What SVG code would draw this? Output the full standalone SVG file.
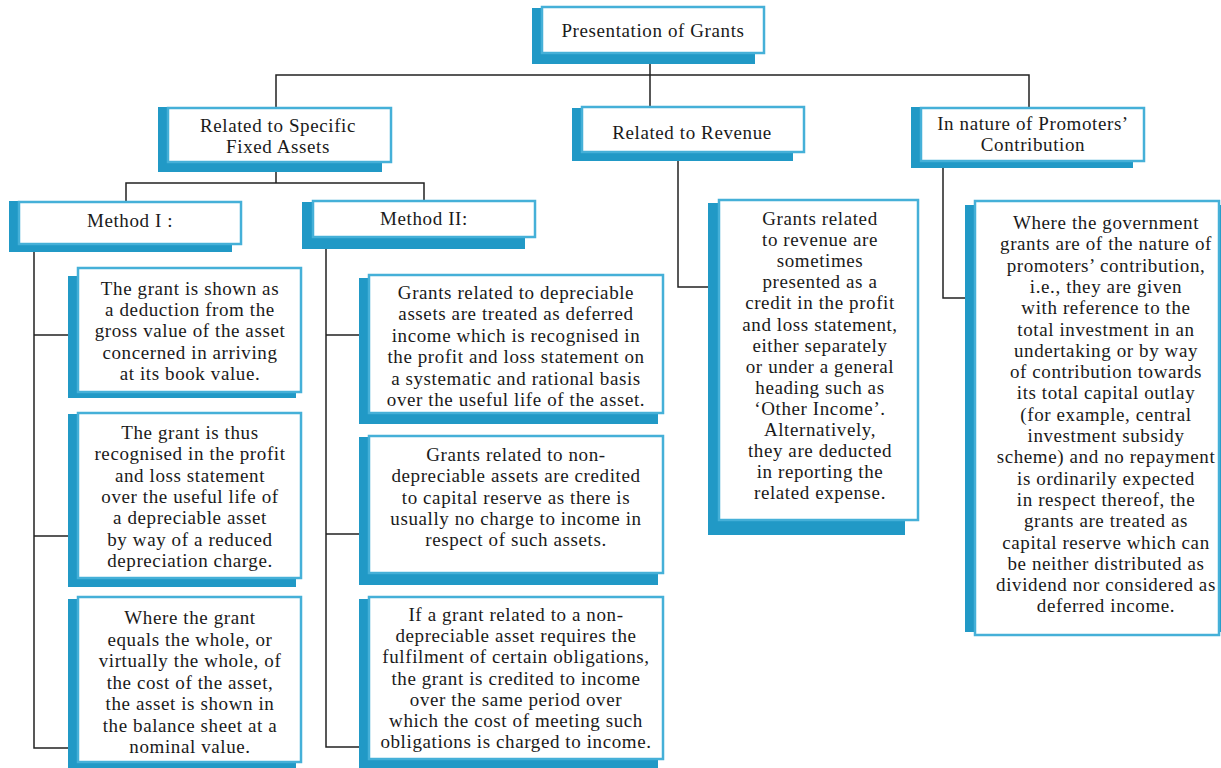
<svg xmlns="http://www.w3.org/2000/svg" width="1221" height="768" viewBox="0 0 1221 768">
<style>
.sh{fill:#2199c6}
.bx{fill:#fff;stroke:#45b0d8;stroke-width:2.5}
.t{font-family:"Liberation Serif","DejaVu Serif",serif;font-size:19px;letter-spacing:0.6px;fill:#1a1a1a;text-anchor:middle}
.c{fill:none;stroke:#222;stroke-width:1.5}
</style>
<rect width="1221" height="768" fill="#fff"/>
<g id="connectors">
<path class="c" d="M650 64V75M276 108V75H1029V107M650 75V107"/>
<path class="c" d="M276 172V183M126 201V183H424V201"/>
<path class="c" d="M34 252V748H68M34 335H68M34 536H68"/>
<path class="c" d="M326 237V747H359M326 335H359M326 534H359"/>
<path class="c" d="M678 161V287H708"/>
<path class="c" d="M943 168V298H965"/>
</g>
<g id="n-top">
<rect class="sh" x="532" y="8" width="223" height="56"/>
<rect class="bx" x="542" y="7" width="222" height="46"/>
<text class="t" x="653" y="37">Presentation of Grants</text>
</g>
<g id="n-specific">
<rect class="sh" x="158" y="107" width="224" height="65"/>
<rect class="bx" x="168" y="108" width="223" height="54"/>
<text class="t" x="278" y="132"><tspan x="278">Related to Specific</tspan><tspan x="278" dy="21.2">Fixed Assets</tspan></text>
</g>
<g id="n-revenue">
<rect class="sh" x="572" y="108" width="221" height="53"/>
<rect class="bx" x="582" y="107" width="222" height="45"/>
<text class="t" x="692" y="139">Related to Revenue</text>
</g>
<g id="n-promoters">
<rect class="sh" x="911" y="107" width="222" height="61"/>
<rect class="bx" x="921" y="108" width="223" height="53"/>
<text class="t" x="1033" y="130"><tspan x="1033">In nature of Promoters’</tspan><tspan x="1033" dy="21.2">Contribution</tspan></text>
</g>
<g id="n-method1">
<rect class="sh" x="9" y="201" width="223" height="51"/>
<rect class="bx" x="19" y="202" width="222" height="42"/>
<text class="t" x="130" y="227">Method I :</text>
</g>
<g id="n-method2">
<rect class="sh" x="302" y="202" width="223" height="47"/>
<rect class="bx" x="313" y="201" width="222" height="36"/>
<text class="t" x="424" y="225">Method II:</text>
</g>
<g id="n-m1a">
<rect class="sh" x="68" y="276" width="228" height="122"/>
<rect class="bx" x="78" y="268" width="223" height="124"/>
<text class="t" x="190" y="295"><tspan x="190">The grant is shown as</tspan><tspan x="190" dy="21.2">a deduction from the</tspan><tspan x="190" dy="21.2">gross value of the asset</tspan><tspan x="190" dy="21.2">concerned in arriving</tspan><tspan x="190" dy="21.2">at its book value.</tspan></text>
</g>
<g id="n-m1b">
<rect class="sh" x="68" y="414" width="228" height="173"/>
<rect class="bx" x="78" y="413" width="223" height="165"/>
<text class="t" x="190" y="439"><tspan x="190">The grant is thus</tspan><tspan x="190" dy="21.3">recognised in the profit</tspan><tspan x="190" dy="21.3">and loss statement</tspan><tspan x="190" dy="21.3">over the useful life of</tspan><tspan x="190" dy="21.3">a depreciable asset</tspan><tspan x="190" dy="21.3">by way of a reduced</tspan><tspan x="190" dy="21.3">depreciation charge.</tspan></text>
</g>
<g id="n-m1c">
<rect class="sh" x="68" y="599" width="228" height="175"/>
<rect class="bx" x="78" y="597" width="223" height="165"/>
<text class="t" x="190" y="624"><tspan x="190">Where the grant</tspan><tspan x="190" dy="21.5">equals the whole, or</tspan><tspan x="190" dy="21.5">virtually the whole, of</tspan><tspan x="190" dy="21.5">the cost of the asset,</tspan><tspan x="190" dy="21.5">the asset is shown in</tspan><tspan x="190" dy="21.5">the balance sheet at a</tspan><tspan x="190" dy="21.5">nominal value.</tspan></text>
</g>
<g id="n-m2a">
<rect class="sh" x="359" y="278" width="299" height="146"/>
<rect class="bx" x="369" y="275" width="294" height="138"/>
<text class="t" x="516" y="299"><tspan x="516">Grants related to depreciable</tspan><tspan x="516" dy="21.4">assets are treated as deferred</tspan><tspan x="516" dy="21.4">income which is recognised in</tspan><tspan x="516" dy="21.4">the profit and loss statement on</tspan><tspan x="516" dy="21.4">a systematic and rational basis</tspan><tspan x="516" dy="21.4">over the useful life of the asset.</tspan></text>
</g>
<g id="n-m2b">
<rect class="sh" x="359" y="437" width="299" height="148"/>
<rect class="bx" x="369" y="436" width="294" height="137"/>
<text class="t" x="516" y="461"><tspan x="516">Grants related to non-</tspan><tspan x="516" dy="21.25">depreciable assets are credited</tspan><tspan x="516" dy="21.25">to capital reserve as there is</tspan><tspan x="516" dy="21.25">usually no charge to income in</tspan><tspan x="516" dy="21.25">respect of such assets.</tspan></text>
</g>
<g id="n-m2c">
<rect class="sh" x="359" y="599" width="299" height="175"/>
<rect class="bx" x="369" y="597" width="294" height="162"/>
<text class="t" x="516" y="621"><tspan x="516">If a grant related to a non-</tspan><tspan x="516" dy="21.2">depreciable asset requires the</tspan><tspan x="516" dy="21.2">fulfilment of certain obligations,</tspan><tspan x="516" dy="21.2">the grant is credited to income</tspan><tspan x="516" dy="21.2">over the same period over</tspan><tspan x="516" dy="21.2">which the cost of meeting such</tspan><tspan x="516" dy="21.2">obligations is charged to income.</tspan></text>
</g>
<g id="n-revdetail">
<rect class="sh" x="708" y="203" width="197" height="332"/>
<rect class="bx" x="719" y="200" width="199" height="320"/>
<text class="t" x="820" y="225"><tspan x="820">Grants related</tspan><tspan x="820" dy="21.1">to revenue are</tspan><tspan x="820" dy="21.1">sometimes</tspan><tspan x="820" dy="21.1">presented as a</tspan><tspan x="820" dy="21.1">credit in the profit</tspan><tspan x="820" dy="21.1">and loss statement,</tspan><tspan x="820" dy="21.1">either separately</tspan><tspan x="820" dy="21.1">or under a general</tspan><tspan x="820" dy="21.1">heading such as</tspan><tspan x="820" dy="21.1">‘Other Income’.</tspan><tspan x="820" dy="21.1">Alternatively,</tspan><tspan x="820" dy="21.1">they are deducted</tspan><tspan x="820" dy="21.1">in reporting the</tspan><tspan x="820" dy="21.1">related expense.</tspan></text>
</g>
<g id="n-promdetail">
<rect class="sh" x="965" y="205" width="256" height="427"/>
<rect class="bx" x="975" y="201" width="244" height="434"/>
<text class="t" x="1106" y="229"><tspan x="1106">Where the government</tspan><tspan x="1106" dy="21.3">grants are of the nature of</tspan><tspan x="1106" dy="21.3">promoters’ contribution,</tspan><tspan x="1106" dy="21.3">i.e., they are given</tspan><tspan x="1106" dy="21.3">with reference to the</tspan><tspan x="1106" dy="21.3">total investment in an</tspan><tspan x="1106" dy="21.3">undertaking or by way</tspan><tspan x="1106" dy="21.3">of contribution towards</tspan><tspan x="1106" dy="21.3">its total capital outlay</tspan><tspan x="1106" dy="21.3">(for example, central</tspan><tspan x="1106" dy="21.3">investment subsidy</tspan><tspan x="1106" dy="21.3">scheme) and no repayment</tspan><tspan x="1106" dy="21.3">is ordinarily expected</tspan><tspan x="1106" dy="21.3">in respect thereof, the</tspan><tspan x="1106" dy="21.3">grants are treated as</tspan><tspan x="1106" dy="21.3">capital reserve which can</tspan><tspan x="1106" dy="21.3">be neither distributed as</tspan><tspan x="1106" dy="21.3">dividend nor considered as</tspan><tspan x="1106" dy="21.3">deferred income.</tspan></text>
</g>
</svg>
